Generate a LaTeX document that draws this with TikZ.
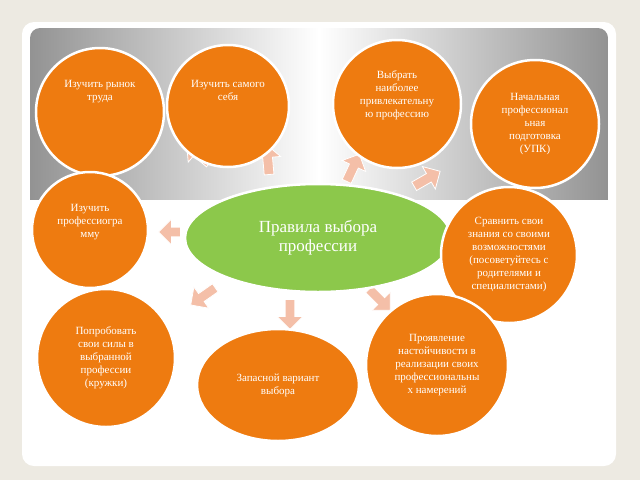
\documentclass[tikz,border=0pt]{standalone}
\usepackage{fontspec}
\setmainfont{Liberation Serif}
\usetikzlibrary{shapes.geometric, shapes.arrows}
\definecolor{bgbeige}{HTML}{EDEAE2}
\definecolor{orangeball}{HTML}{EE7B10}
\definecolor{greenball}{HTML}{8CC84B}
\definecolor{pinkarrow}{HTML}{F4BFA8}
\tikzstyle{ball} = [circle, draw=white, line width=2.5pt, fill=orangeball, text=white, align=center, font=\fontsize{11}{13}\selectfont, inner sep=0pt]
\tikzstyle{centre} = [ellipse, draw=white, line width=2.5pt, fill=greenball, text=white, align=center, font=\fontsize{17}{19}\selectfont]
\tikzstyle{blockarrow} = [single arrow, fill=pinkarrow, draw=white, line width=0.8pt, minimum width=26pt, single arrow head extend=4pt, minimum height=30pt, inner sep=2pt]

\begin{document}
\begin{tikzpicture}[x=1pt, y=-1pt]

  \fill[bgbeige] (0,0) rectangle (640,480);
  \useasboundingbox (0,0) rectangle (640,480);
  \fill[white, rounded corners=12pt] (22,22) rectangle (616,466);
  \shade[left color=gray!85, right color=gray!85, middle color=white, rounded corners=10pt] (30,28) rectangle (608,250);
  \fill[white] (30,200) rectangle (608,252);

  % arrows
  \node (a1) [blockarrow, rotate=140] at (200,155) {};
  \node (a2) [blockarrow, rotate=95] at (268,162) {};
  \node (a3) [blockarrow, rotate=65] at (352,170) {};
  \node (a4) [blockarrow, rotate=30] at (425,180) {};
  \node (a5) [blockarrow, rotate=180, minimum height=22pt] at (172,232) {};
  \node (a6) [blockarrow, rotate=215] at (205,295) {};
  \node (a7) [blockarrow, rotate=270] at (290,312) {};
  \node (a8) [blockarrow, rotate=315] at (378,298) {};

  \node (centre) [centre, minimum width=266pt, minimum height=108pt] at (318,238) {Правила выбора\\профессии};

  \node (market) [ball, minimum size=128pt] at (100,112) {Изучить рынок\\труда\\[30pt]};
  \node (self) [ball, minimum size=122pt] at (228,106) {Изучить самого\\себя\\[18pt]};
  \node (choose) [ball, minimum size=128pt] at (397,104) {Выбрать\\наиболее\\привлекательну\\ю профессию\\[6pt]};
  \node (upk) [ball, minimum size=128pt] at (535,124) {Начальная\\профессионал\\ьная\\подготовка\\(УПК)};
  \node (prof) [ball, minimum size=116pt] at (90,230) {Изучить\\профессиогра\\мму\\[6pt]};
  \node (compare) [ball, minimum size=136pt] at (509,255) {Сравнить свои\\знания со своими\\возможностями\\(посоветуйтесь с\\родителями и\\специалистами)};
  \node (try) [ball, minimum size=138pt] at (106,358) {Попробовать\\свои силы в\\выбранной\\профессии\\(кружки)};
  \node (spare) [ball, ellipse, minimum width=162pt, minimum height=112pt] at (278,385) {Запасной вариант\\выбора};
  \node (persist) [ball, minimum size=142pt] at (437,365) {Проявление\\настойчивости в\\реализации своих\\профессиональны\\х намерений};

\end{tikzpicture}
\end{document}
